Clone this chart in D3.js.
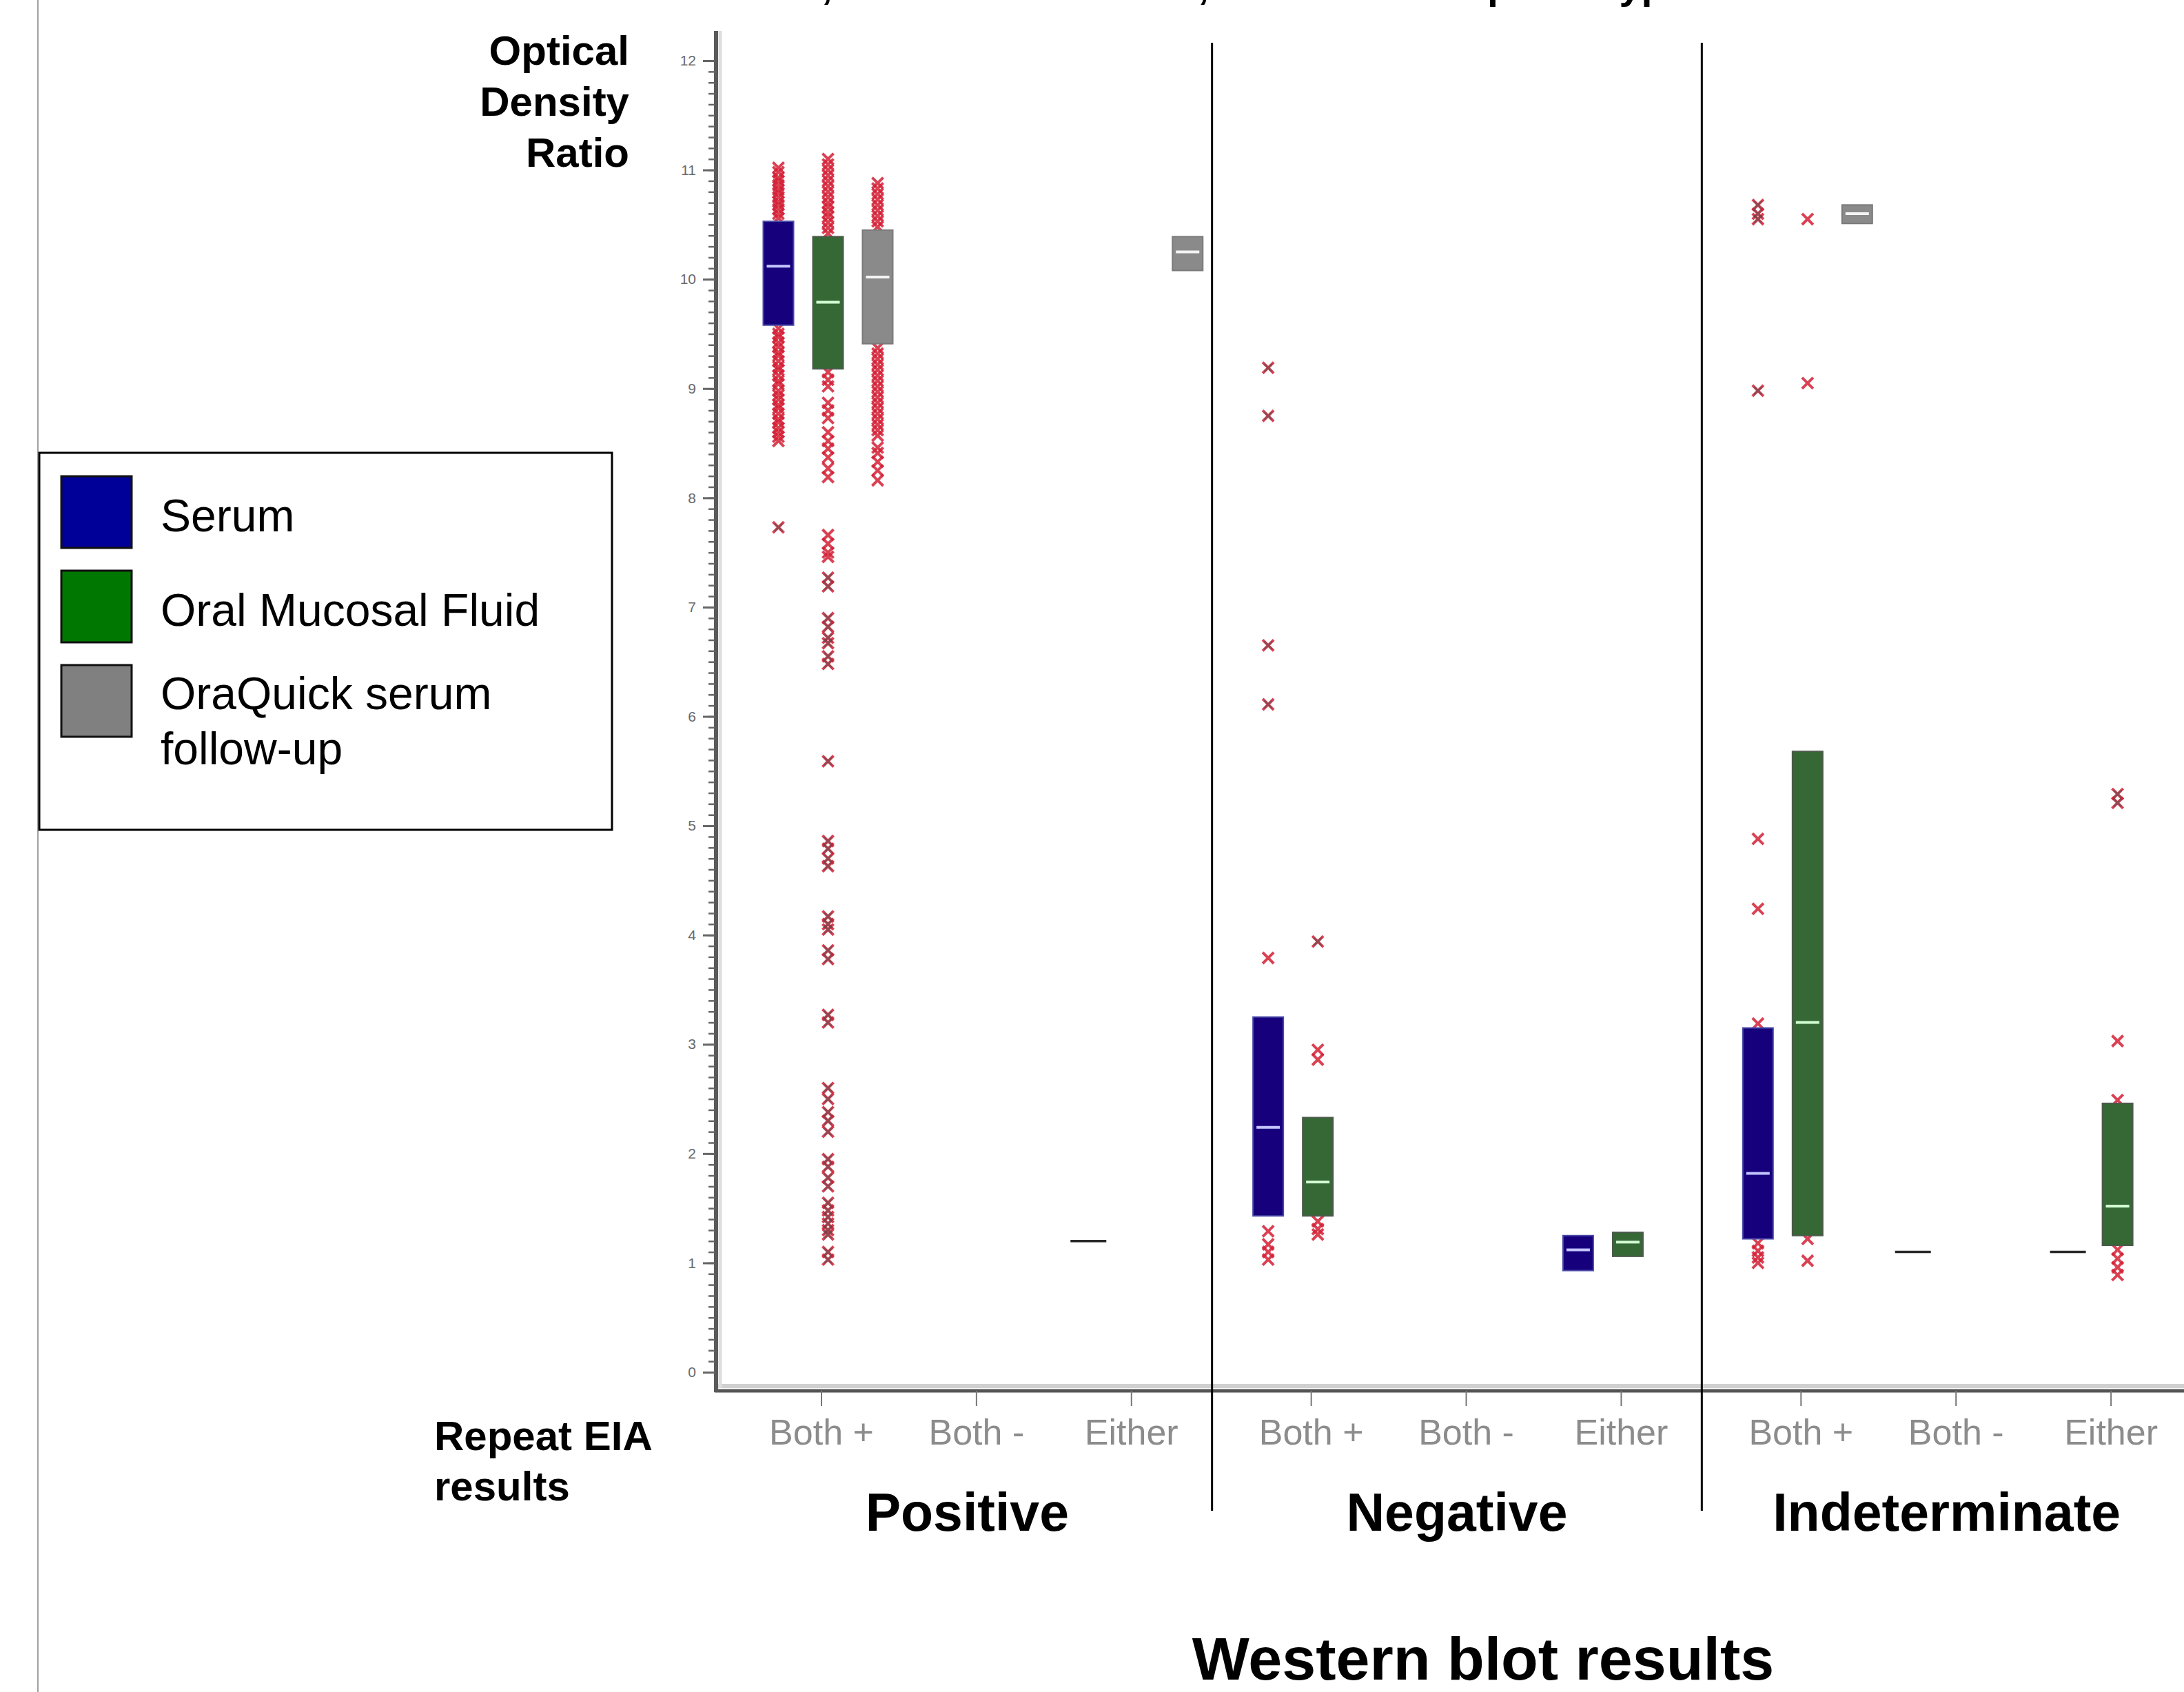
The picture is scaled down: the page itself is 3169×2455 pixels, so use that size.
<!DOCTYPE html>
<html>
<head>
<meta charset="utf-8" />
<title>Optical density ratio by Western blot and repeat EIA results</title>
<style>
html, body {
    margin: 0px;
    padding: 0px;
    background: #fff;
}
svg {
    display: block;
    font-family: "Liberation Sans", Arial, sans-serif;
}
</style>
</head>
<body>
<div id="chart"></div>
<script src="https://cdnjs.cloudflare.com/ajax/libs/d3/7.8.5/d3.min.js"></script>
<script>
var groups = ["Positive", "Negative", "Indeterminate"];
var eiaResults = ["Both +", "Both -", "Either"];
var specimens = ["Serum", "Oral Mucosal Fluid", "OraQuick serum follow-up"];
var legendLines = [["Serum"], ["Oral Mucosal Fluid"], ["OraQuick serum", "follow-up"]];
var yTicks = [0, 1, 2, 3, 4, 5, 6, 7, 8, 9, 10, 11, 12];

// western blot, repeat EIA, specimen, q1, median, q3
var boxStats = [
    ["Positive", "Both +", "Serum", 9.58, 10.12, 10.53],
    ["Positive", "Both +", "Oral Mucosal Fluid", 9.18, 9.79, 10.39],
    ["Positive", "Both +", "OraQuick serum follow-up", 9.41, 10.02, 10.45],
    ["Positive", "Either", "Serum", 1.2, 1.2, 1.2],
    ["Positive", "Either", "OraQuick serum follow-up", 10.08, 10.25, 10.39],
    ["Negative", "Both +", "Serum", 1.43, 2.24, 3.25],
    ["Negative", "Both +", "Oral Mucosal Fluid", 1.43, 1.74, 2.33],
    ["Negative", "Either", "Serum", 0.93, 1.12, 1.25],
    ["Negative", "Either", "Oral Mucosal Fluid", 1.06, 1.19, 1.28],
    ["Indeterminate", "Both +", "Serum", 1.22, 1.82, 3.15],
    ["Indeterminate", "Both +", "Oral Mucosal Fluid", 1.25, 3.2, 5.68],
    ["Indeterminate", "Both +", "OraQuick serum follow-up", 10.51, 10.6, 10.68],
    ["Indeterminate", "Both -", "Serum", 1.1, 1.1, 1.1],
    ["Indeterminate", "Either", "Serum", 1.1, 1.1, 1.1],
    ["Indeterminate", "Either", "Oral Mucosal Fluid", 1.16, 1.52, 2.46]
];

// western blot, repeat EIA, specimen, single observations
var pointValues = [
    ["Positive", "Both +", "Serum", [11.02, 10.98, 10.93, 10.9, 10.86, 10.82, 10.79, 10.75, 10.71, 10.68, 10.64, 10.6, 10.56,
        9.55, 9.5, 9.47, 9.42, 9.38, 9.33, 9.3, 9.25, 9.2, 9.17, 9.12, 9.07, 9.04, 8.98, 8.94, 8.9, 8.85, 8.82, 8.77,
        8.72, 8.69, 8.64, 8.6, 8.56, 8.52, 7.73]],
    ["Positive", "Both +", "Oral Mucosal Fluid", [11.1, 11.05, 11.0, 10.95, 10.9, 10.85, 10.8, 10.75, 10.7, 10.66, 10.61,
        10.57, 10.52, 10.47, 10.42, 9.15, 9.08, 9.02, 8.87, 8.8, 8.73, 8.6, 8.52, 8.45, 8.37, 8.27, 8.19, 7.66, 7.58,
        7.5, 7.46, 7.27, 7.19, 6.9, 6.82, 6.72, 6.67, 6.55, 6.48, 5.59, 4.86, 4.79, 4.7, 4.63, 4.17, 4.1, 4.05, 3.86,
        3.78, 3.27, 3.2, 2.6, 2.5, 2.38, 2.3, 2.2, 1.95, 1.88, 1.78, 1.7, 1.55, 1.48, 1.42, 1.36, 1.3, 1.26, 1.1, 1.03]],
    ["Positive", "Both +", "OraQuick serum follow-up", [10.88, 10.83, 10.78, 10.73, 10.68, 10.63, 10.58, 10.53, 10.48,
        9.37, 9.32, 9.27, 9.22, 9.17, 9.12, 9.07, 9.02, 8.97, 8.92, 8.87, 8.82, 8.77, 8.72, 8.67, 8.62, 8.57, 8.46,
        8.41, 8.33, 8.25, 8.16]],
    ["Negative", "Both +", "Serum", [9.19, 8.75, 6.65, 6.11, 3.79, 1.29, 1.17, 1.1, 1.03]],
    ["Negative", "Both +", "Oral Mucosal Fluid", [3.94, 2.95, 2.86, 1.38, 1.31, 1.26]],
    ["Indeterminate", "Both +", "Serum", [10.68, 10.6, 10.55, 8.98, 4.88, 4.24, 3.19, 1.18, 1.11, 1.05, 1.0]],
    ["Indeterminate", "Both +", "Oral Mucosal Fluid", [10.55, 9.05, 1.22, 1.02]],
    ["Indeterminate", "Either", "Oral Mucosal Fluid", [5.29, 5.21, 3.03, 2.49, 1.12, 1.04, 0.96, 0.89]]
];

!(function(){
    "use strict"

    var W = 3169, H = 2455
    var svg, y, xGroup, xEia, xSpec

    main()

    function main() {
        svg = d3.select("#chart").append("svg")
            .attr("width", W)
            .attr("height", H)

        y = d3.scaleLinear().domain([0, 12]).range([1991, 88])
        xGroup = d3.scaleBand().domain(groups).range([1048, 3180])
        xEia = d3.scalePoint().domain(eiaResults).range([0, xGroup.bandwidth()]).padding(0.58).align(0.55)
        xSpec = d3.scaleBand().domain(specimens).range([-98, 118])

        drawFrame()
        drawAxes()
        drawPoints()
        drawBoxes()
        drawLegend()
        drawLabels()
    }

    function cx(g, e, s) {
        return xGroup(g) + xEia(e) + xSpec(s) + xSpec.bandwidth() / 2
    }

    function drawFrame() {
        svg.append("line")
            .attr("x1", 55).attr("x2", 55).attr("y1", 0).attr("y2", H)
            .attr("stroke", "#a0a0a0").attr("stroke-width", 2)

        // title runs off the top of the picture, only its descenders show
        svg.append("text")
            .attr("x", 1013).attr("y", -2)
            .attr("font-size", 57.5).attr("font-weight", "bold")
            .text("Serum, Oral Mucosal Fluid, and HIV-1 EIA phenotype")
    }

    function drawAxes() {
        // x axis: light band above a dark line
        svg.append("line")
            .attr("x1", 1037).attr("x2", W).attr("y1", 2011).attr("y2", 2011)
            .attr("stroke", "#d0d0d0").attr("stroke-width", 6)
        svg.append("line")
            .attr("x1", 1037).attr("x2", W).attr("y1", 2018).attr("y2", 2018)
            .attr("stroke", "#555").attr("stroke-width", 5)

        groups.forEach(function(g) {
            var ax = svg.append("g")
                .attr("transform", "translate(" + xGroup(g) + ",2018)")
                .call(d3.axisBottom(xEia).tickSize(22).tickPadding(19))
            ax.select(".domain").remove()
            ax.selectAll(".tick line").attr("stroke", "#777").attr("stroke-width", 2)
            ax.selectAll(".tick text")
                .attr("fill", "#8c8c8c")
                .attr("font-size", 52)
                .attr("font-family", "Liberation Sans, Arial, sans-serif")
        })

        // y axis
        svg.append("line")
            .attr("x1", 1045).attr("x2", 1045).attr("y1", 45).attr("y2", 2014)
            .attr("stroke", "#dedede").attr("stroke-width", 5)
        svg.append("line")
            .attr("x1", 1039).attr("x2", 1039).attr("y1", 45).attr("y2", 2020)
            .attr("stroke", "#5a5a5a").attr("stroke-width", 6)

        var minor = svg.append("g")
            .attr("transform", "translate(1037,0)")
            .call(d3.axisLeft(y).ticks(120).tickSize(9).tickFormat(""))
        minor.select(".domain").remove()
        minor.selectAll(".tick line").attr("stroke", "#666").attr("stroke-width", 2.5)

        var major = svg.append("g")
            .attr("transform", "translate(1037,0)")
            .call(d3.axisLeft(y).tickValues(yTicks).tickSize(17).tickPadding(10).tickFormat(d3.format("d")))
        major.select(".domain").remove()
        major.selectAll(".tick line").attr("stroke", "#666").attr("stroke-width", 3)
        major.selectAll(".tick text")
            .attr("fill", "#6a6a6a")
            .attr("font-size", 21)
            .attr("font-family", "Liberation Sans, Arial, sans-serif")

        // dividers between western blot groups
        svg.selectAll(".divider")
            .data(groups.slice(1))
            .enter().append("line")
            .attr("class", "divider")
            .attr("x1", function(g) { return xGroup(g) })
            .attr("x2", function(g) { return xGroup(g) })
            .attr("y1", 62).attr("y2", 2192)
            .attr("stroke", "#000").attr("stroke-width", 3)
    }

    function drawPoints() {
        var fences = {}
        boxStats.forEach(function(b) {
            var iqr = b[5] - b[3]
            fences[b[0] + b[1] + b[2]] = [b[3] - 1.5 * iqr, b[5] + 1.5 * iqr]
        })

        var pts = []
        pointValues.forEach(function(p) {
            p[3].forEach(function(v) {
                var f = fences[p[0] + p[1] + p[2]]
                pts.push({ x: cx(p[0], p[1], p[2]), v: v, out: v < f[0] || v > f[1] })
            })
        })

        var sym = d3.symbol().type(d3.symbolX).size(170)

        svg.append("g").selectAll("path")
            .data(pts)
            .enter().append("path")
            .attr("d", sym)
            .attr("transform", function(d) { return "translate(" + d.x + "," + y(d.v) + ")" })
            .attr("fill", "none")
            .attr("stroke", "#d42035")
            .attr("stroke-opacity", 0.85)
            .attr("stroke-width", 4)

        // points beyond the fences also carry a dark outlier mark
        svg.append("g").selectAll("path")
            .data(pts.filter(function(d) { return d.out }))
            .enter().append("path")
            .attr("d", d3.symbol().type(d3.symbolX).size(90))
            .attr("transform", function(d) { return "translate(" + d.x + "," + y(d.v) + ")" })
            .attr("fill", "none")
            .attr("stroke", "#505050")
            .attr("stroke-opacity", 0.55)
            .attr("stroke-width", 2.5)
    }

    function drawBoxes() {
        var fill = d3.scaleOrdinal().domain(specimens).range(["#16007c", "#356835", "#8a8a8a"])
        var edge = d3.scaleOrdinal().domain(specimens).range(["#4a4aa8", "#4d5a4d", "#7a7a7a"])
        var med = d3.scaleOrdinal().domain(specimens).range(["#c4c4ff", "#d4ffd4", "#f4f4f4"])
        var bw = 44

        var boxes = boxStats.filter(function(b) { return b[5] > b[3] })
        var flat = boxStats.filter(function(b) { return b[5] <= b[3] })

        var g = svg.append("g")
        g.selectAll("rect")
            .data(boxes)
            .enter().append("rect")
            .attr("x", function(b) { return cx(b[0], b[1], b[2]) - bw / 2 })
            .attr("width", bw)
            .attr("y", function(b) { return y(b[5]) })
            .attr("height", function(b) { return y(b[3]) - y(b[5]) })
            .attr("fill", function(b) { return fill(b[2]) })
            .attr("stroke", function(b) { return edge(b[2]) })
            .attr("stroke-width", 2)

        g.selectAll(".median")
            .data(boxes)
            .enter().append("line")
            .attr("class", "median")
            .attr("x1", function(b) { return cx(b[0], b[1], b[2]) - bw / 2 + 5 })
            .attr("x2", function(b) { return cx(b[0], b[1], b[2]) + bw / 2 - 5 })
            .attr("y1", function(b) { return y(b[4]) })
            .attr("y2", function(b) { return y(b[4]) })
            .attr("stroke", function(b) { return med(b[2]) })
            .attr("stroke-width", 4)

        // one-value groups collapse to a single line
        g.selectAll(".flat")
            .data(flat)
            .enter().append("line")
            .attr("class", "flat")
            .attr("x1", function(b) { return cx(b[0], b[1], b[2]) - 26 })
            .attr("x2", function(b) { return cx(b[0], b[1], b[2]) + 26 })
            .attr("y1", function(b) { return y(b[4]) })
            .attr("y2", function(b) { return y(b[4]) })
            .attr("stroke", "#2a2a2a")
            .attr("stroke-width", 3.5)
    }

    function drawLegend() {
        var swatch = d3.scaleOrdinal().domain(specimens).range(["#000099", "#007700", "#808080"])
        var lg = svg.append("g")

        lg.append("rect")
            .attr("x", 57).attr("y", 657).attr("width", 831).attr("height", 547)
            .attr("fill", "#fff").attr("stroke", "#000").attr("stroke-width", 3)

        var row = lg.selectAll(".row")
            .data(specimens)
            .enter().append("g")
            .attr("class", "row")
            .attr("transform", function(s, i) { return "translate(0," + (691 + i * 137) + ")" })

        row.append("rect")
            .attr("x", 89).attr("y", 0).attr("width", 102).attr("height", 104)
            .attr("fill", function(s) { return swatch(s) })
            .attr("stroke", "#111").attr("stroke-width", 3)

        row.append("text")
            .attr("font-size", 66)
            .selectAll("tspan")
            .data(function(s, i) { return legendLines[i] })
            .enter().append("tspan")
            .attr("x", 233)
            .attr("y", function(t, j, nodes) { return 80 + j * 80 - (nodes.length - 1) * 16 })
            .text(function(t) { return t })
    }

    function drawLabels() {
        var yt = svg.append("text")
            .attr("text-anchor", "end")
            .attr("font-size", 60).attr("font-weight", "bold")
        ;["Optical", "Density", "Ratio"].forEach(function(t, i) {
            yt.append("tspan").attr("x", 913).attr("y", 94 + i * 74).text(t)
        })

        var xt = svg.append("text")
            .attr("font-size", 60).attr("font-weight", "bold")
        ;["Repeat EIA", "results"].forEach(function(t, i) {
            xt.append("tspan").attr("x", 630).attr("y", 2104 + i * 73).text(t)
        })

        svg.selectAll(".group-label")
            .data(groups)
            .enter().append("text")
            .attr("class", "group-label")
            .attr("x", function(g) { return xGroup(g) + xGroup.bandwidth() / 2 })
            .attr("y", 2221)
            .attr("text-anchor", "middle")
            .attr("font-size", 77).attr("font-weight", "bold")
            .text(function(g) { return g })

        svg.append("text")
            .attr("x", 2152).attr("y", 2437)
            .attr("text-anchor", "middle")
            .attr("font-size", 88).attr("font-weight", "bold")
            .text("Western blot results")
    }

}());
</script>
</body>
</html>
